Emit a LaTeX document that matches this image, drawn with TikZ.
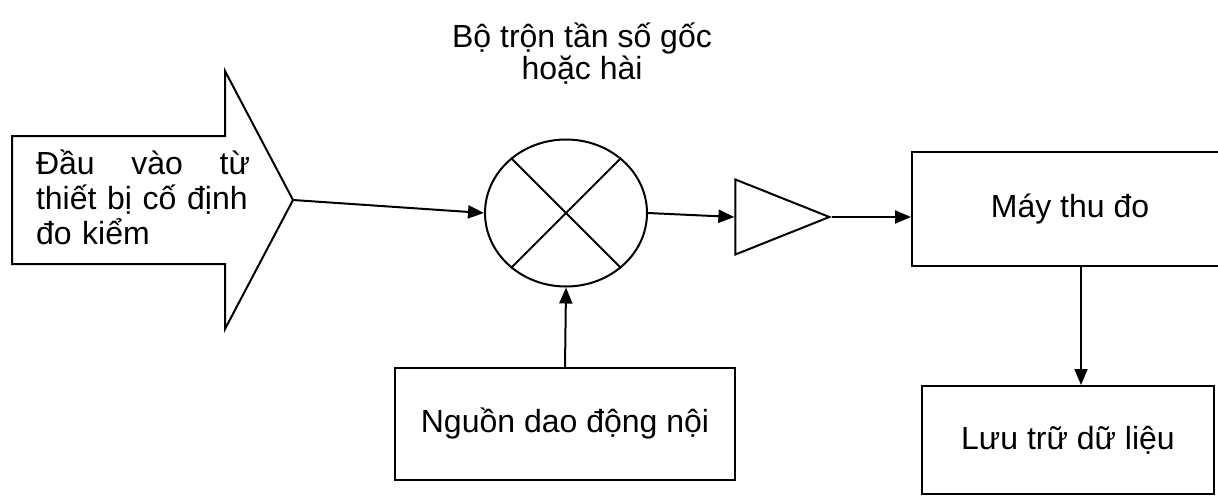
\documentclass[tikz,border=0pt]{standalone}
\usepackage{fontspec}
\setmainfont{Liberation Sans}
\usepackage{tikz}
\usetikzlibrary{shapes}
\usetikzlibrary{shapes.geometric}
\usetikzlibrary{arrows.meta}

\begin{document}
\begin{tikzpicture}[x=0.5pt,y=-0.5pt,font=\fontsize{16}{17.5}\selectfont,
		khoi/.style={draw=black,line width=1pt,rectangle,inner sep=0pt},
		mui/.style={line width=1pt,-{Triangle[length=8pt,width=6.5pt]}}]
			
			% khung hình
			\useasboundingbox (0,0) rectangle (1218,503);
			\clip (0,0) rectangle (1218,503);
			
			% mũi tên đầu vào
			\draw[line width=1pt] (12,136) -- (225,136) -- (225,71) -- (293,200) -- (225,329) -- (225,264) -- (12,264) -- cycle;
			\coordinate (dinh) at (293,200);
			\node[text width=107pt] (vao) at (143,197) {Đầu\hfill vào\hfill từ\\thiết bị cố định\\đo kiểm};
			
			% bộ trộn
			\node[draw=black,line width=1pt,ellipse,minimum width=81pt,minimum height=73.5pt,inner sep=0pt] (tron) at (566,213) {};
			\draw[line width=1pt] (tron.45) -- (tron.225);
			\draw[line width=1pt] (tron.135) -- (tron.315);
			\node[align=center,font=\fontsize{16}{16}\selectfont] (ten) at (582,54) {Bộ trộn tần số gốc\\hoặc hài};
			
			% bộ khuếch đại
			\node[draw=black,line width=1pt,isosceles triangle,isosceles triangle stretches,minimum width=37.5pt,minimum height=47pt,inner sep=0pt,anchor=apex] (khuech) at (832,217) {};
			
			% các khối
			\node[khoi,minimum width=158pt,minimum height=57pt] (may) at (1070,209) {Máy thu đo};
			\node[khoi,minimum width=146pt,minimum height=54pt] (luu) at (1068,440) {Lưu trữ dữ liệu};
			\node[khoi,minimum width=170pt,minimum height=56pt] (nguon) at (565,424) {Nguồn dao động nội};
			
			% vẽ đường nối
			\coordinate (xuong) at (1081,0);
			\draw[mui] (dinh) -- (tron.west);
			\draw[mui] (tron.east) -- (khuech.west);
			\draw[mui] (khuech.apex) -- (khuech.apex -| may.west);
			\draw[mui] (nguon.north) -- (tron.south);
			\draw[mui] (may.south -| xuong) -- (luu.north -| xuong);
			
		\end{tikzpicture}
\end{document}
